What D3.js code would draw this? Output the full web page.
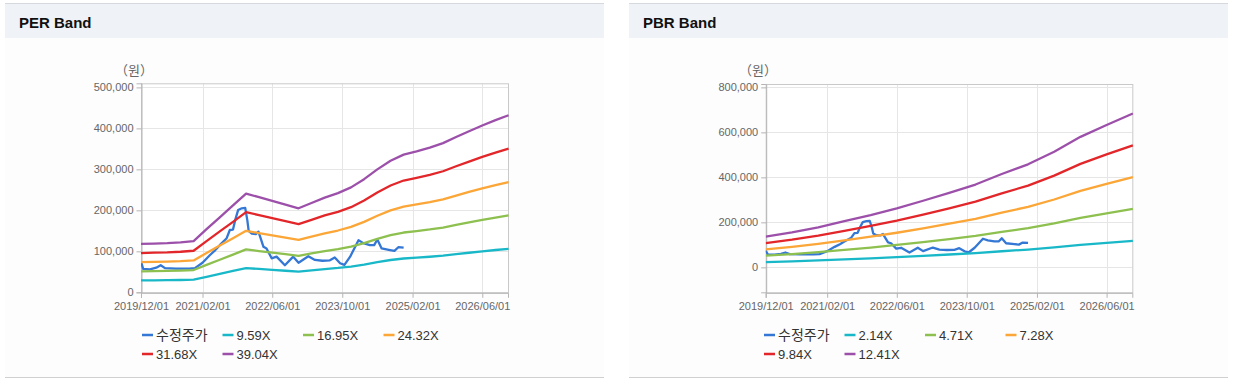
<!DOCTYPE html>
<html><head><meta charset="utf-8">
<script src="https://cdn.jsdelivr.net/npm/d3@7"></script>
<style>
html,body{margin:0;padding:0;background:#fff;}
svg{display:block;}
text{font-family:"Liberation Sans",Arial,"Noto Sans CJK KR",sans-serif;}
</style></head>
<body><svg id="c" width="1234" height="385"></svg>
<script>
// ---------- DATA ----------
const priceDates = ["2019-12-01","2019-12-16","2020-02-01","2020-03-16","2020-04-16","2020-05-16","2020-08-01","2020-11-01","2020-12-10","2021-02-01","2021-03-25","2021-05-01","2021-06-01","2021-07-19","2021-08-10","2021-09-01","2021-09-16","2021-10-07","2021-11-01","2021-11-25","2021-12-10","2021-12-19","2022-01-10","2022-02-07","2022-02-25","2022-04-01","2022-04-22","2022-05-28","2022-07-01","2022-08-28","2022-10-25","2022-12-01","2023-02-07","2023-03-25","2023-05-16","2023-07-07","2023-08-10","2023-09-16","2023-10-16","2023-11-25","2024-01-22","2024-02-25","2024-04-10","2024-05-10","2024-06-01","2024-07-01","2024-08-28","2024-09-28","2024-10-25","2024-12-01"];
const price = [75000,57000,56000,60000,66000,59000,58000,58000,59000,72000,91000,103000,115000,132000,152000,153000,176000,201000,205000,206000,175000,150000,143000,142000,148000,111000,107000,83000,87000,66000,87000,72000,88000,79000,77000,78000,85000,71000,67000,87000,127000,120000,115000,115000,129000,107000,103000,101000,110000,109000];

const perDates = ["2019-12-01","2020-03-01","2020-06-01","2020-09-01","2020-12-01","2021-03-01","2021-06-01","2021-09-01","2021-12-01","2022-03-01","2022-06-01","2022-09-01","2022-12-01","2023-03-01","2023-06-01","2023-09-01","2023-12-01","2024-03-01","2024-06-01","2024-09-01","2024-12-01","2025-03-01","2025-06-01","2025-09-01","2025-12-01","2026-03-01","2026-06-01","2026-09-01","2026-12-01"];
const per959  = [29000,29200,29500,30000,30700,37800,44900,52100,59200,57000,54800,52600,50300,53500,56700,59400,62900,67800,73700,78800,82500,84500,86700,89400,93100,96500,100000,103200,106100];
const per1695 = [51200,51700,52100,53000,54300,66900,79500,92100,104600,100700,96800,92900,89000,94700,100300,105100,111200,119800,130300,139400,145900,149400,153300,158000,164600,170600,176700,182400,187600];
const per2432 = [73500,74100,74800,76000,77900,95900,114000,132100,150100,144500,138900,133300,127700,135800,143900,150800,159500,171900,186900,200000,209300,214300,219900,226800,236100,244800,253600,261700,269100];
const per3168 = [95800,96600,97400,99000,101400,125000,148500,172000,195600,188300,181000,173700,166400,176900,187500,196400,207700,224000,243500,260500,272700,279200,286500,295400,307600,318900,330300,340800,350600];
const per3904 = [118000,119000,120000,122000,125000,154000,183000,212000,241000,232000,223000,214000,205000,218000,231000,242000,256000,276000,300000,321000,336000,344000,353000,364000,379000,393000,407000,420000,432000];

const pbrDates = ["2019-12-01","2020-06-01","2020-12-01","2021-06-01","2021-12-01","2022-06-01","2022-12-01","2023-06-01","2023-12-01","2024-06-01","2024-12-01","2025-06-01","2025-12-01","2026-06-01","2026-12-01"];
const pbr214  = [23400,26700,30700,35300,40000,45200,51000,57100,63400,71500,79000,88600,100000,109100,117900];
const pbr471  = [51600,58800,67600,77800,88000,99400,112300,125600,139700,157500,173800,195100,220100,240200,259600];
const pbr728  = [79800,90900,104400,120300,136100,153700,173600,194200,215900,243400,268700,301500,340200,371300,401200];
const pbr984  = [107800,122900,141100,162500,184000,207700,234700,262400,291800,329100,363100,407600,459900,501900,542300];
const pbr1241 = [136000,155000,178000,205000,232000,262000,296000,331000,368000,415000,458000,514000,580000,633000,684000];

const perLabels = ["수정주가","9.59X","16.95X","24.32X","31.68X","39.04X"];
const pbrLabels = ["수정주가","2.14X","4.71X","7.28X","9.84X","12.41X"];
const xTickLabels = ["2019/12/01","2021/02/01","2022/06/01","2023/10/01","2025/02/01","2026/06/01"];
const perYTicks = [0,100000,200000,300000,400000,500000];
const pbrYTicks = [0,200000,400000,600000,800000];
const colors = ["#3477d4","#19b8c8","#8dc04f","#fba637","#e2262a","#9c50aa"];

// ---------- DRAW ----------
const svg = d3.select("#c");
const parse = d3.timeParse("%Y-%m-%d");
const tickParse = d3.timeParse("%Y/%m/%d");
const xStart = parse("2019-12-01"), xEnd = parse("2026-11-27");

function panel(cfg){
  const g = svg.append("g");
  // header
  g.append("rect").attr("x",cfg.px).attr("y",3).attr("width",599).attr("height",1).attr("fill","#d5d8dc");
  g.append("rect").attr("x",cfg.px).attr("y",4).attr("width",599).attr("height",34).attr("fill","#eff2f7");
  g.append("rect").attr("x",cfg.px).attr("y",38).attr("width",599).attr("height",339).attr("fill","#fdfdfd");
  g.append("rect").attr("x",cfg.px).attr("y",377).attr("width",599).attr("height",1).attr("fill","#d0d0d0");
  g.append("text").attr("x",cfg.px+14).attr("y",28).attr("font-size","15px").attr("font-weight","bold")
    .attr("fill","#111").text(cfg.title);

  const x = d3.scaleTime().domain([xStart,xEnd]).range([cfg.l,cfg.r]);
  const y = d3.scaleLinear().domain(cfg.yDomain).range([cfg.b,cfg.t]);
  const xt = xTickLabels.map(s=>tickParse(s));

  // plot bg + grid
  g.append("rect").attr("x",cfg.l).attr("y",cfg.t).attr("width",cfg.r-cfg.l).attr("height",cfg.b-cfg.t).attr("fill","#fff");
  g.selectAll(".vg").data(xt.slice(1)).enter().append("line")
    .attr("x1",d=>Math.round(x(d))+0.5).attr("x2",d=>Math.round(x(d))+0.5)
    .attr("y1",cfg.t).attr("y2",cfg.b).attr("stroke","#e6e6e6");
  g.selectAll(".hg").data(cfg.yTicks).enter().append("line")
    .attr("x1",cfg.l).attr("x2",cfg.r)
    .attr("y1",d=>Math.round(y(d))+0.5).attr("y2",d=>Math.round(y(d))+0.5).attr("stroke","#e6e6e6");
  g.append("rect").attr("x",cfg.l+0.5).attr("y",cfg.t+0.5).attr("width",cfg.r-cfg.l).attr("height",cfg.b-cfg.t)
    .attr("fill","none").attr("stroke","#c9c9c9");

  // axes
  const ya = g.append("g").attr("transform",`translate(${cfg.l+0.5},0)`)
    .call(d3.axisLeft(y).tickValues(cfg.yTicks).tickFormat(d3.format(",")).tickSize(5).tickPadding(3));
  const xa = g.append("g").attr("transform",`translate(0,${cfg.b+0.5})`)
    .call(d3.axisBottom(x).tickValues(xt).tickFormat((d,i)=>xTickLabels[i]).tickSize(5).tickPadding(4));
  [ya,xa].forEach(a=>{
    a.select(".domain").attr("stroke","#b5b5b5");
    a.selectAll(".tick line").attr("stroke","#b5b5b5");
    a.selectAll("text").attr("fill","#666").attr("font-size","11px")
      .attr("font-family",'"Liberation Sans",Arial,sans-serif');
  });
  g.append("text").attr("x",cfg.unitX).attr("y",75).attr("text-anchor","middle")
    .attr("font-size","13px").attr("fill","#666")
    .attr("font-family",'"Noto Sans CJK KR",sans-serif').text("（원）");

  // lines
  const clipId = "clip"+cfg.id;
  g.append("clipPath").attr("id",clipId).append("rect")
    .attr("x",cfg.l).attr("y",cfg.t).attr("width",cfg.r-cfg.l+1).attr("height",cfg.b-cfg.t);
  const lg = g.append("g").attr("clip-path",`url(#${clipId})`);
  const line = d3.line().x(d=>x(d[0])).y(d=>y(d[1]));
  const series = [[priceDates,price]].concat(cfg.bands.map(b=>[cfg.bandDates,b]));
  series.forEach((s,i)=>{
    const pts = s[0].map((d,j)=>[parse(d),s[1][j]]);
    lg.append("path").datum(pts).attr("d",line).attr("fill","none")
      .attr("stroke",colors[i]).attr("stroke-width",2.3).attr("stroke-linejoin","round");
  });

  // legend
  cfg.labels.forEach((lab,i)=>{
    const lx = cfg.legX + (i%4)*80.5, ly = 335 + Math.floor(i/4)*19;
    g.append("line").attr("x1",lx).attr("x2",lx+11).attr("y1",ly).attr("y2",ly)
      .attr("stroke",colors[i]).attr("stroke-width",2.5);
    g.append("text").attr("x",lx+14).attr("y",ly).attr("dy","0.36em")
      .attr("font-size",i===0?"14px":"13px").attr("fill","#333").text(lab);
  });
}

panel({id:"per",px:5,title:"PER Band",l:141,r:508,t:83.3,b:292.3,yDomain:[0,510000],yTicks:perYTicks,
  bands:[per959,per1695,per2432,per3168,per3904],bandDates:perDates,labels:perLabels,legX:142,unitX:134});
panel({id:"pbr",px:629,title:"PBR Band",l:765.7,r:1132.3,t:84,b:292.3,yDomain:[-111000,815000],yTicks:pbrYTicks,
  bands:[pbr214,pbr471,pbr728,pbr984,pbr1241],bandDates:pbrDates,labels:pbrLabels,legX:764,unitX:758});
</script></body></html>
